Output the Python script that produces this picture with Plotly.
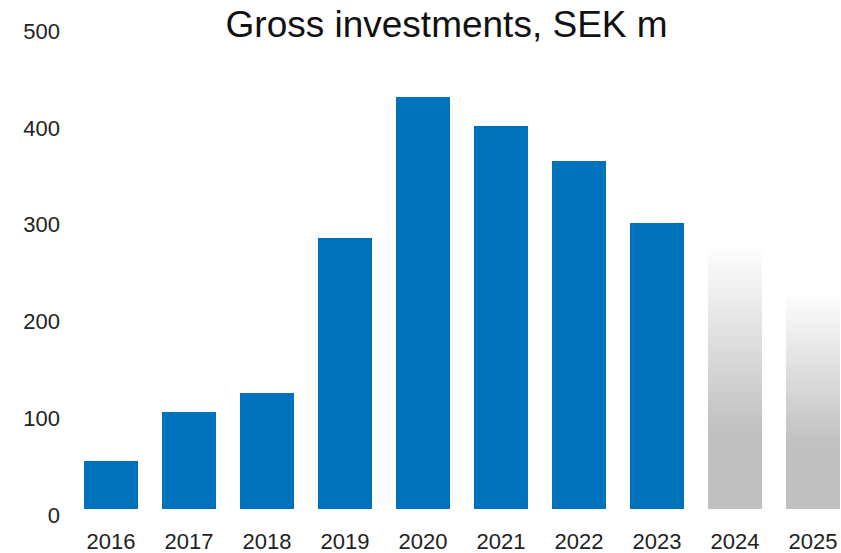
import plotly.graph_objects as go

years = ["2016", "2017", "2018", "2019", "2020", "2021", "2022", "2023", "2024", "2025"]
actual = [50, 100, 120, 280, 426, 396, 360, 295]
forecast = [268, 221]
y_ticks = [0, 100, 200, 300, 400, 500]

BLUE = "#0072BC"
FONT = "Liberation Sans, Arial, sans-serif"

x_actual = list(range(len(actual)))
x_fc = list(range(len(actual), len(years)))

fig = go.Figure()
fig.add_trace(go.Bar(x=x_actual, y=actual, width=0.705, marker=dict(color=BLUE, line=dict(width=0)),
                     showlegend=False, hoverinfo="y"))

N = 60
for k in range(N):
    f = (k + 0.5) / N
    if f < 0.3:
        g = 192
    else:
        g = 192 + (253 - 192) * (f - 0.3) / 0.7
    g = int(round(g))
    fig.add_trace(go.Bar(x=x_fc, y=[v / N for v in forecast], width=0.705,
                         marker=dict(color=f"rgb({g},{g},{g})", line=dict(width=0)),
                         showlegend=False, hoverinfo="skip"))

fig.update_layout(
    barmode="stack",
    width=841, height=553,
    margin=dict(l=72, r=0, t=25, b=44),
    paper_bgcolor="white", plot_bgcolor="white",
    font=dict(family=FONT, size=22, color="#222222"),
    title=dict(text="Gross investments, SEK m", x=0.531, xref="container", xanchor="center",
               y=0.956, yref="container", yanchor="middle",
               font=dict(family=FONT, size=37, color="#111111")),
    xaxis=dict(range=[-0.5, 9.359], tickmode="array", tickvals=list(range(len(years))),
               ticktext=years, showgrid=False, zeroline=False, showline=False,
               ticks="", ticklabelstandoff=17, tickfont=dict(size=22), automargin=False),
    yaxis=dict(range=[0, 500], tickmode="array", tickvals=y_ticks,
               ticktext=[str(t) for t in y_ticks], showgrid=False, zeroline=False,
               showline=False, ticks="", ticklabelstandoff=11, ticklabelshift=6,
               tickfont=dict(size=22), automargin=False),
)

fig.write_html("out.html", config={"displayModeBar": False},
               post_script="document.body.style.margin='0px';document.body.style.overflow='hidden';")
